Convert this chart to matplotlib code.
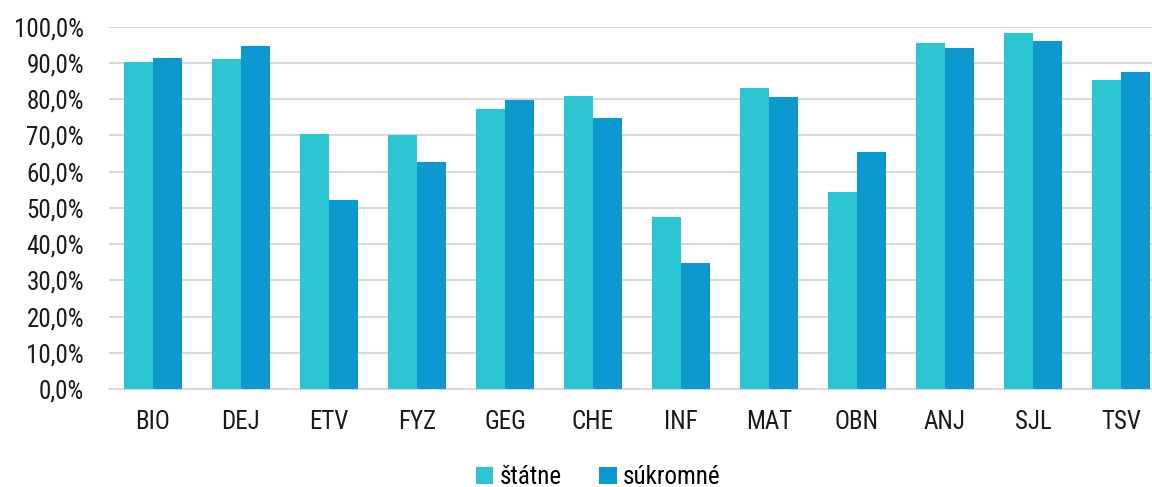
import matplotlib.pyplot as plt
import numpy as np

# podiel uspesnosti podla predmetu
predmety = ['BIO', 'DEJ', 'ETV', 'FYZ', 'GEG', 'CHE', 'INF', 'MAT', 'OBN', 'ANJ', 'SJL', 'TSV']
statne = [90.3, 91.0, 70.3, 70.0, 77.4, 80.9, 47.5, 83.1, 54.4, 95.4, 98.3, 85.2]
sukromne = [91.4, 94.7, 52.3, 62.7, 79.9, 74.9, 34.8, 80.5, 65.4, 94.0, 96.1, 87.5]
yticks = [0, 10, 20, 30, 40, 50, 60, 70, 80, 90, 100]

font = ['Roboto Condensed', 'Liberation Sans Narrow', 'Roboto', 'DejaVu Sans']
plt.rcParams['font.family'] = font

fig = plt.figure(figsize=(11.52, 4.87), dpi=100)
ax = fig.add_axes([109/1152, 1 - 389/487, 1056/1152, (389 - 26.7)/487])

x = np.arange(len(predmety))
w = 0.335
ax.bar(x - w/2, statne, w, color='#2CC5D2', label='štátne', zorder=3)
ax.bar(x + w/2, sukromne, w, color='#0D98CF', label='súkromné', zorder=3)

ax.set_xlim(-0.5, len(predmety) - 0.5)
ax.set_ylim(0, 100)
ax.set_yticks(yticks)
ax.set_yticklabels(['%d,0%%' % v for v in yticks])
ax.set_xticks(x)
ax.set_xticklabels(predmety)
ax.tick_params(axis='both', length=0, labelsize=18, colors='#1a1a1a')
ax.tick_params(axis='x', pad=15)
ax.tick_params(axis='y', pad=18)

ax.grid(axis='y', color='#d9d9d9', linewidth=1.5, zorder=0)
for s in ['top', 'right', 'left']:
    ax.spines[s].set_visible(False)
ax.spines['bottom'].set_color('#d9d9d9')
ax.spines['bottom'].set_linewidth(1.5)

fig.legend(loc='center', bbox_to_anchor=(598/1152, 0.02), ncol=2, frameon=False,
           fontsize=18, handlelength=0.7, handleheight=0.7, handletextpad=0.25,
           columnspacing=1.5)

fig.savefig('out.png', dpi=100)
